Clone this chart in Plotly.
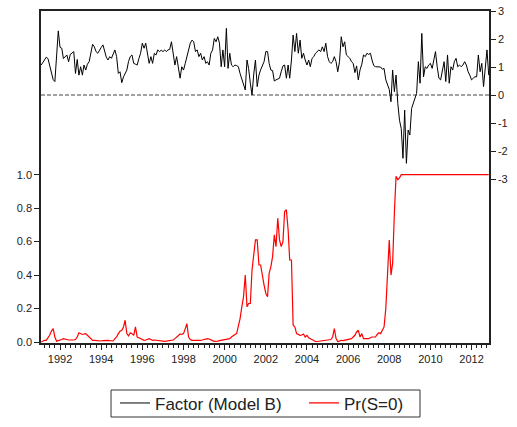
import pandas as pd
import plotly.graph_objects as go

# ---------------- data (monthly, 1991M02 - 2012M12) ----------------
start_month = "1991-02-01"

factor = [
    # 1991 (Feb-Dec)
    1.07, 1.15, 1.25, 1.35, 1.30, 1.05, 0.89, 0.55, 0.48, 1.50, 2.29,
    # 1992
    1.70, 1.67, 1.30, 1.35, 1.43, 1.19, 1.45, 1.50, 1.55, 0.77, 1.27, 0.71,
    # 1993
    1.01, 0.71, 1.07, 0.89, 1.10, 1.19, 1.50, 1.81, 1.72, 1.55, 1.49, 1.61,
    # 1994
    1.70, 1.79, 1.61, 1.35, 1.25, 1.37, 1.31, 1.45, 1.61, 1.37, 0.77, 0.83,
    # 1995
    0.44, 0.65, 0.75, 0.89, 1.20, 1.37, 1.43, 1.13, 1.10, 1.07, 1.30, 1.49,
    # 1996
    1.85, 1.67, 1.85, 1.50, 1.13, 1.37, 1.13, 1.49, 1.43, 1.61, 1.55, 1.60,
    # 1997
    1.55, 1.61, 1.55, 1.61, 1.63, 1.90, 1.50, 1.07, 1.37, 0.89, 0.60, 1.01,
    # 1998
    0.89, 1.13, 1.37, 1.60, 1.85, 1.96, 1.90, 1.55, 1.61, 1.37, 1.49, 1.25,
    # 1999
    1.37, 1.13, 1.19, 1.07, 1.49, 1.61, 2.02, 1.90, 2.08, 1.85, 1.01, 1.61,
    # 2000
    1.01, 2.38, 0.95, 1.49, 1.07, 1.01, 1.07, 1.05, 1.01, 0.77, 0.54, 0.36,
    # 2001
    0.18, 1.25, 0.95, 0.42, 0.00, 0.75, 1.25, 0.30, 0.71, 0.90, 1.07, 1.19,
    # 2002
    1.55, 1.55, 1.13, 0.89, 0.87, 0.50, 0.54, 0.57, 0.60, 0.83, 1.04, 1.07,
    # 2003
    0.60, 1.07, 0.60, 1.25, 2.14, 1.55, 2.20, 1.49, 1.96, 1.31, 1.49, 1.25,
    # 2004
    1.07, 1.25, 1.01, 1.31, 1.37, 1.49, 1.55, 1.61, 1.55, 1.72, 1.55, 1.85,
    # 2005
    1.37, 1.19, 1.13, 1.19, 1.37, 1.19, 0.83, 1.19, 2.08, 1.72, 1.90, 1.43,
    # 2006
    1.37, 1.31, 1.19, 1.13, 0.80, 1.04, 0.54, 0.90, 1.10, 1.43, 1.37, 1.49,
    # 2007
    1.45, 1.49, 1.25, 1.05, 1.01, 1.00, 1.01, 1.00, 0.92, 0.95, 0.54, 0.36,
    # 2008
    0.20, -0.24, 0.89, 0.12, 0.71, -0.30, -0.90, -1.20, -2.26, -0.54, -2.44, -1.25,
    # 2009
    -1.43, -0.48, -0.30, -0.12, 0.06, 1.19, 0.42, 2.20, 0.65, 1.01, 0.95, 1.07,
    # 2010
    1.13, 0.95, 1.25, 1.55, 1.01, 0.60, 0.54, 0.89, 1.19, 0.48, 1.43, 0.42,
    # 2011
    1.01, 0.89, 1.19, 1.31, 1.01, 1.07, 1.01, 1.07, 1.19, 1.07, 0.83, 0.71,
    # 2012 (Jan-Nov)
    0.54, 0.60, 0.65, 0.65, 1.43, 0.83, 1.13, 0.30, 1.07, 1.61, 0.71,
]

prob_s0 = [
    # 1991 (Feb-Dec)
    0.000, 0.005, 0.010, 0.010, 0.025, 0.040, 0.065, 0.080, 0.030, 0.005, 0.008,
    # 1992
    0.010, 0.015, 0.020, 0.016, 0.012, 0.012, 0.012, 0.010, 0.012, 0.015, 0.030, 0.055,
    # 1993
    0.050, 0.045, 0.048, 0.050, 0.040, 0.030, 0.015, 0.010, 0.010, 0.008, 0.010, 0.008,
    # 1994
    0.006, 0.008, 0.010, 0.012, 0.010, 0.008, 0.006, 0.006, 0.020, 0.030, 0.050, 0.065,
    # 1995
    0.070, 0.090, 0.130, 0.050, 0.036, 0.055, 0.050, 0.040, 0.090, 0.030, 0.025, 0.020,
    # 1996
    0.012, 0.010, 0.012, 0.015, 0.020, 0.015, 0.010, 0.012, 0.010, 0.008, 0.010, 0.008,
    # 1997
    0.006, 0.004, 0.005, 0.006, 0.008, 0.010, 0.012, 0.020, 0.030, 0.040, 0.048, 0.045,
    # 1998
    0.050, 0.080, 0.110, 0.030, 0.015, 0.010, 0.012, 0.010, 0.010, 0.008, 0.010, 0.012,
    # 1999
    0.015, 0.018, 0.020, 0.018, 0.015, 0.008, 0.004, 0.003, 0.005, 0.008, 0.010, 0.010,
    # 2000
    0.012, 0.015, 0.018, 0.020, 0.030, 0.040, 0.045, 0.050, 0.090, 0.140, 0.210, 0.270,
    # 2001
    0.400, 0.210, 0.230, 0.230, 0.430, 0.510, 0.610, 0.610, 0.460, 0.460, 0.390, 0.340,
    # 2002
    0.290, 0.270, 0.410, 0.450, 0.510, 0.640, 0.570, 0.740, 0.610, 0.570, 0.600, 0.780,
    # 2003
    0.790, 0.670, 0.490, 0.490, 0.100, 0.090, 0.050, 0.045, 0.040, 0.042, 0.048, 0.030,
    # 2004
    0.040, 0.025, 0.020, 0.012, 0.006, 0.003, 0.003, 0.004, 0.005, 0.008, 0.010, 0.012,
    # 2005
    0.010, 0.012, 0.015, 0.030, 0.080, 0.020, 0.003, 0.005, 0.010, 0.008, 0.010, 0.010,
    # 2006
    0.012, 0.015, 0.020, 0.030, 0.040, 0.060, 0.070, 0.030, 0.050, 0.020, 0.020, 0.018,
    # 2007
    0.020, 0.025, 0.030, 0.030, 0.030, 0.045, 0.055, 0.050, 0.070, 0.090, 0.200, 0.430,
    # 2008
    0.610, 0.400, 0.470, 0.770, 0.990, 0.970, 0.980, 1.000, 1.000, 1.000, 1.000, 1.000,
    # 2009
    1.000, 1.000, 1.000, 1.000, 1.000, 1.000, 1.000, 1.000, 1.000, 1.000, 1.000, 1.000,
    # 2010
    1.000, 1.000, 1.000, 1.000, 1.000, 1.000, 1.000, 1.000, 1.000, 1.000, 1.000, 1.000,
    # 2011
    1.000, 1.000, 1.000, 1.000, 1.000, 1.000, 1.000, 1.000, 1.000, 1.000, 1.000, 1.000,
    # 2012 (Jan-Nov)
    1.000, 1.000, 1.000, 1.000, 1.000, 1.000, 1.000, 1.000, 1.000, 1.000, 1.000,
]

year_labels = ["1992", "1994", "1996", "1998", "2000", "2002",
               "2004", "2006", "2008", "2010", "2012"]
prob_ticks = [0.0, 0.2, 0.4, 0.6, 0.8, 1.0]
prob_labels = ["0.0", "0.2", "0.4", "0.6", "0.8", "1.0"]
factor_ticks = [-3, -2, -1, 0, 1, 2, 3]
factor_labels = ["-3", "-2", "-1", "0", "1", "2", "3"]

series_names = ["Factor (Model B)", "Pr(S=0)"]

# ---------------- figure ----------------
dates = pd.date_range(start_month, periods=len(factor), freq="MS")
year_tickvals = [y + "-01-01" for y in year_labels]

FONT = "Arial, Liberation Sans, Helvetica, sans-serif"
AXIS_COL = "#222222"

fig = go.Figure()
fig.add_trace(go.Scatter(
    x=dates, y=factor, name=series_names[0], yaxis="y2", mode="lines",
    line=dict(color="black", width=1),
))
fig.add_trace(go.Scatter(
    x=dates, y=prob_s0, name=series_names[1], yaxis="y", mode="lines",
    line=dict(color="#ff0000", width=1.2),
))

# dashed zero line for the factor (right axis)
fig.add_shape(type="line", xref="paper", x0=0, x1=1, yref="y2", y0=0, y1=0,
              line=dict(color="#444444", width=1, dash="4px,2px"), layer="below")

# legend frame
fig.add_shape(type="rect", xref="paper", yref="paper",
              x0=0.1563, x1=0.8460, y0=-0.2229, y1=-0.1416,
              line=dict(color="#333333", width=1), fillcolor="rgba(0,0,0,0)")

fig.update_layout(
    width=517, height=427,
    margin=dict(l=41, r=28, t=11, b=84, autoexpand=False),
    paper_bgcolor="white", plot_bgcolor="white",
    font=dict(family=FONT, size=11, color="#222222"),
    showlegend=True,
    legend=dict(
        orientation="h", x=0.1652, xanchor="left", y=-0.182, yanchor="middle",
        borderwidth=0, bgcolor="rgba(0,0,0,0)",
        font=dict(family=FONT, size=17, color="#222222"),
        itemwidth=30, traceorder="normal",
        entrywidth=144, entrywidthmode="pixels",
    ),
    xaxis=dict(
        type="date", range=["1991-01-28", "2012-11-06"],
        tickmode="array", tickvals=year_tickvals, ticktext=year_labels,
        ticks="outside", ticklen=5, tickwidth=1, tickcolor=AXIS_COL,
        showline=True, linecolor=AXIS_COL, linewidth=1.5, mirror=True,
        showgrid=False, zeroline=False,
        tickfont=dict(family=FONT, size=11, color="#222222"),
        minor=dict(ticks="outside", ticklen=3, tickwidth=1, tickcolor=AXIS_COL,
                   dtick="M3", tick0="1991-01-01", showgrid=False),
    ),
    yaxis=dict(
        range=[-0.006, 1.978],
        tickmode="array", tickvals=prob_ticks, ticktext=prob_labels,
        ticks="outside", ticklen=5, tickwidth=1, tickcolor=AXIS_COL,
        showline=True, linecolor=AXIS_COL, linewidth=1.5,
        showgrid=False, zeroline=False,
        tickfont=dict(family=FONT, size=11, color="#222222"),
    ),
    yaxis2=dict(
        overlaying="y", side="right", range=[-8.857, 3.0],
        tickmode="array", tickvals=factor_ticks, ticktext=factor_labels,
        ticks="outside", ticklen=5, tickwidth=1, tickcolor=AXIS_COL,
        showline=True, linecolor=AXIS_COL, linewidth=1.5,
        showgrid=False, zeroline=False,
        tickfont=dict(family=FONT, size=11, color="#222222"),
    ),
)

fig.write_html(
    "out.html",
    config={"displayModeBar": False},
    post_script="document.body.style.margin='0';document.body.style.padding='0';",
)
